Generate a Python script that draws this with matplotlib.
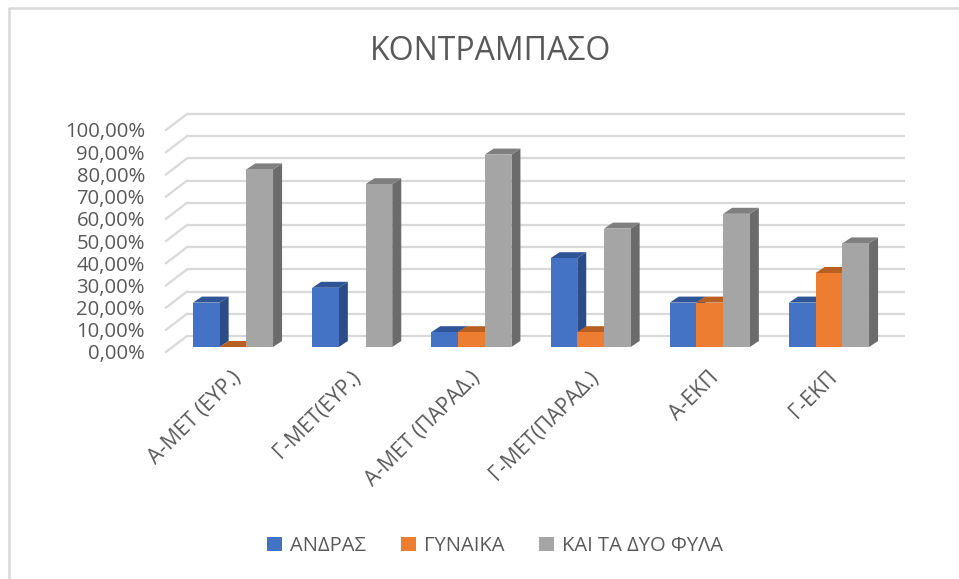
import matplotlib
matplotlib.use("Agg")
import matplotlib.pyplot as plt
from matplotlib.patches import Polygon, Patch
from matplotlib.lines import Line2D
import numpy as np

plt.rcParams['font.family'] = ['Open Sans', 'DejaVu Sans']

title = "ΚΟΝΤΡΑΜΠΑΣΟ"
categories = ["Α-ΜΕΤ (ΕΥΡ.)", "Γ-ΜΕΤ(ΕΥΡ.)", "Α-ΜΕΤ (ΠΑΡΑΔ.)", "Γ-ΜΕΤ(ΠΑΡΑΔ.)", "Α-ΕΚΠ", "Γ-ΕΚΠ"]
series_names = ["ΑΝΔΡΑΣ", "ΓΥΝΑΙΚΑ", "ΚΑΙ ΤΑ ΔΥΟ ΦΥΛΑ"]
andras = [0.20, 0.2667, 0.0667, 0.40, 0.20, 0.20]
gynaika = [0.0, None, 0.0667, 0.0667, 0.20, 0.3333]
kai_ta_dyo = [0.80, 0.7333, 0.8667, 0.5333, 0.60, 0.4667]
yticks = [0.0, 0.1, 0.2, 0.3, 0.4, 0.5, 0.6, 0.7, 0.8, 0.9, 1.0]
ytick_labels = ["0,00%", "10,00%", "20,00%", "30,00%", "40,00%", "50,00%",
                "60,00%", "70,00%", "80,00%", "90,00%", "100,00%"]

front_colors = ["#4472C4", "#ED7D31", "#A5A5A5"]
top_colors = ["#2F5597", "#B85F22", "#7F7F7F"]
side_colors = ["#2B4C86", "#A9561D", "#6B6B6B"]
text_color = "#595959"
grid_color = "#D9D9D9"

W, H = 959, 579
fig = plt.figure(figsize=(W / 100, H / 100), dpi=100)
ax = fig.add_axes([0, 0, 1, 1])
ax.axis('off')

# layout (pixels)
X0, DX = 233.0, 119.2     # first group centre, group spacing
Y0, DY = 347.0, 222.0     # baseline (from top), pixels per 100%
ax.set_xlim((0 - X0) / DX, (W - X0) / DX)
ax.set_ylim((Y0 - H) / DY, Y0 / DY)

def px_x(p):
    return (p - X0) / DX

bar_w = 26.7 / DX
depth_x = 9.0 / DX
depth_y = 6.0 / DY
back_dy = 11.0 / DY
front_dy = -5.0 / DY

# back wall gridlines and side diagonals
gx0, gx1 = px_x(187), px_x(905)
dxf = px_x(166)
for v in yticks:
    ax.plot([gx0, gx1], [v + back_dy, v + back_dy], color=grid_color, lw=1.6, zorder=1,
            solid_capstyle='butt')
    ax.plot([dxf, gx0], [v + front_dy, v + back_dy], color=grid_color, lw=1.6, zorder=1)

# tick labels
for v, lab in zip(yticks, ytick_labels):
    ax.text(px_x(145), v + front_dy - 2.5 / DY, lab, ha='right', va='center', fontsize=14.6,
            color=text_color)

# bars
data = [andras, gynaika, kai_ta_dyo]
x = np.arange(len(categories))
offsets = [-bar_w, 0.0, bar_w]
z = 2
for i in range(len(categories)):
    for s in range(3):
        v = data[s][i]
        if v is None:
            continue
        xc = x[i] + offsets[s]
        l, r = xc - bar_w / 2, xc + bar_w / 2
        side = Polygon([[r, 0], [r + depth_x, depth_y], [r + depth_x, v + depth_y], [r, v]],
                       closed=True, facecolor=side_colors[s], edgecolor='none', zorder=z)
        top = Polygon([[l, v], [l + depth_x, v + depth_y], [r + depth_x, v + depth_y], [r, v]],
                      closed=True, facecolor=top_colors[s], edgecolor='none', zorder=z)
        ax.add_patch(side)
        ax.add_patch(top)
        ax.bar([xc], [v], width=bar_w, color=front_colors[s], zorder=z + 0.5, linewidth=0)
        z += 1

# category labels
for i, lab in enumerate(categories):
    ax.text(x[i] - 2 / DX, -20 / DY, lab, rotation=45, rotation_mode='anchor',
            ha='right', va='top', fontsize=15.2, color=text_color)

# title
fig.text(491 / W, 1 - 52 / H, title, ha='center', va='center', fontsize=23, color=text_color)

# legend
handles = [Patch(facecolor=c, edgecolor='none') for c in front_colors]
fig.legend(handles, series_names, loc='center', bbox_to_anchor=(495 / W, 1 - 546 / H),
           ncol=3, frameon=False, fontsize=14.5, handlelength=0.75, handleheight=0.75,
           handletextpad=0.4, columnspacing=1.7, labelcolor=text_color)

# chart border
fig.add_artist(Line2D([9 / W, 9 / W, 1], [0, 1 - 8 / H, 1 - 8 / H], transform=fig.transFigure,
                      color=grid_color, lw=1.8))

fig.savefig("out.png", dpi=100)
